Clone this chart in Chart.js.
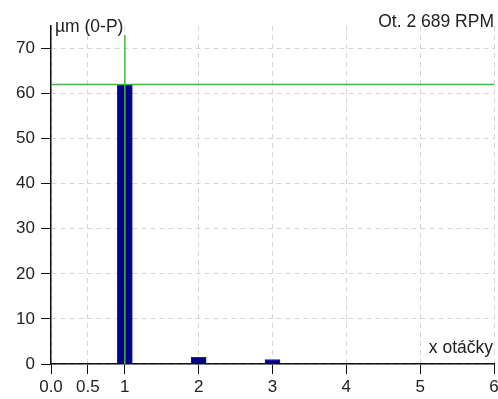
<!DOCTYPE html>
<html>
<head>
<meta charset="utf-8">
<script src="https://cdn.jsdelivr.net/npm/chart.js@4"></script>
<style>
  html, body { margin: 0; padding: 0; background: #fff; }
  #wrap { width: 498px; height: 399px; }
</style>
</head>
<body>
<div id="wrap"><canvas id="myChart" width="498" height="399"></canvas></div>
<script>
// harmonics (x otáčky) and amplitudes
let orders = [1, 2, 3];
let amplitudes = [62, 1.5, 1.0];

// green reference lines
let levelLine = [62, 62];       // horizontal level, from x=0 to x=6
let levelLineX = [0, 6];
let runLineX = [1, 1];          // vertical marker at 1x
let runLineY = [0, 73];

// tick labels
let xTicks = [0, 0.5, 1, 2, 3, 4, 5, 6];
let xTickLabels = ['0.0', '0.5', '1', '2', '3', '4', '5', '6'];
let yTicks = [0, 10, 20, 30, 40, 50, 60, 70];

let yUnit = 'µm (0-P)';
let speedText = 'Ot. 2 689 RPM';
let xUnit = 'x otáčky';

const FONT = 'Liberation Sans, Arial, sans-serif';
const textColor = '#222';

// draws the three captions on the canvas
const captions = {
    id: 'captions',
    afterDraw(chart) {
        const ctx = chart.ctx;
        const area = chart.chartArea;
        ctx.save();
        ctx.fillStyle = textColor;
        ctx.font = '17.5px ' + FONT;
        ctx.textBaseline = 'middle';
        ctx.textAlign = 'left';
        ctx.fillText(yUnit, area.left + 4, 27);
        ctx.textAlign = 'right';
        ctx.fillText(speedText, 494, 22);
        ctx.fillText(xUnit, 493, 348);
        ctx.restore();
    }
};

const chart = document.getElementById('myChart').getContext('2d');
const myChart = new Chart(chart, {
    type: 'bar',
    data: {
        datasets: [{
            type: 'line',
            data: levelLineX.map((x, i) => ({x: x, y: levelLine[i]})),
            borderColor: '#3dbb3d',
            borderWidth: 1.5,
            pointRadius: 0,
            order: 0
        }, {
            type: 'line',
            data: runLineX.map((x, i) => ({x: x, y: runLineY[i]})),
            borderColor: '#3dbb3d',
            borderWidth: 1.5,
            pointRadius: 0,
            order: 0
        }, {
            type: 'bar',
            data: orders.map((x, i) => ({x: x, y: amplitudes[i]})),
            backgroundColor: '#000088',
            borderColor: '#1c1cb0',
            borderWidth: 1,
            barThickness: 15,
            order: 1
        }]
    },
    options: {
        responsive: false,
        animation: false,
        layout: { padding: { top: 26, right: 0 } },
        plugins: {
            legend: { display: false },
            tooltip: { enabled: false }
        },
        scales: {
            x: {
                type: 'linear',
                min: 0,
                max: 6,
                offset: false,
                afterBuildTicks: (scale) => { scale.ticks = xTicks.map(v => ({value: v})); },
                afterFit: (scale) => { scale.height = 35; scale.paddingRight = 4; },
                ticks: {
                    autoSkip: false,
                    maxRotation: 0,
                    padding: 3,
                    color: textColor,
                    font: { family: FONT, size: 17 },
                    callback: (value) => xTickLabels[xTicks.indexOf(value)]
                },
                grid: {
                    offset: false,
                    color: '#d6d6d6',
                    tickColor: '#111',
                    tickLength: 10,
                    lineWidth: 1
                },
                border: { color: '#111', width: 1.5, dash: [5, 4] }
            },
            y: {
                min: 0,
                max: 75,
                afterBuildTicks: (scale) => { scale.ticks = yTicks.map(v => ({value: v})); },
                afterFit: (scale) => { scale.width = 51; },
                ticks: {
                    padding: 6,
                    color: textColor,
                    font: { family: FONT, size: 17 }
                },
                grid: {
                    color: '#d6d6d6',
                    tickColor: '#111',
                    tickLength: 10,
                    lineWidth: 1
                },
                border: { color: '#111', width: 1.5, dash: [5, 4] }
            }
        }
    },
    plugins: [captions]
});
</script>
</body>
</html>
